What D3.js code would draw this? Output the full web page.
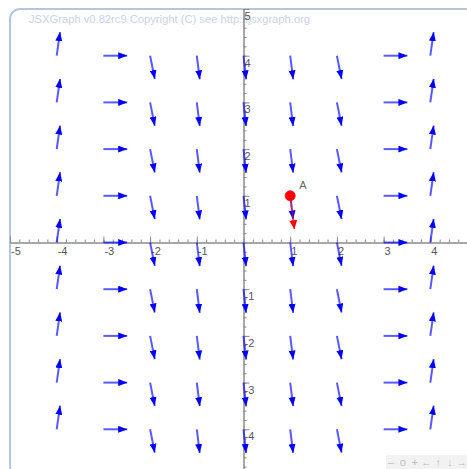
<!DOCTYPE html>
<html>
<head>
<meta charset="utf-8">
<script src="https://cdn.jsdelivr.net/npm/d3@7"></script>
<style>
html,body{margin:0;padding:0;background:#fff;overflow:hidden;}
svg{display:block;font-family:"Liberation Sans",Arial,sans-serif;}
</style>
</head>
<body>
<script>
// ---- data ----
const gridX = [-4, -3, -2, -1, 0, 1, 2, 3, 4];
const gridY = [4, 3, 2, 1, 0, -1, -2, -3, -4];
const slopes = [7, 0, -5, -8, -9, -8, -5, 0, 7];   // dy/dx read per column
const majorTicks = [-5, -4, -3, -2, -1, 1, 2, 3, 4, 5];
const tickLabels = ["-5", "-4", "-3", "-2", "-1", "1", "2", "3", "4", "5"];
const pointA = {x: 1, y: 1, label: "A", slope: -8};
const navSymbols = ["\u2013", "o", "+", "\u2190", "\u2191", "\u2193", "\u2192"];
const copyright = "JSXGraph v0.82rc9 Copyright (C) see http://jsxgraph.org";

const W = 467, H = 469;
const box = {left: 10, top: 9, size: 467};
const x = d3.scaleLinear().domain([-5, 5]).range([box.left, box.left + box.size]);
const y = d3.scaleLinear().domain([-5, 5]).range([box.top + box.size, box.top]);

const svg = d3.select("body").append("svg").attr("width", W).attr("height", H);
const defs = svg.append("defs");
function marker(id, color, len, wid) {
  defs.append("marker").attr("id", id)
    .attr("viewBox", `0 0 ${len} ${wid}`).attr("refX", len).attr("refY", wid / 2)
    .attr("markerUnits", "userSpaceOnUse").attr("markerWidth", len).attr("markerHeight", wid)
    .attr("orient", "auto")
    .append("path").attr("d", `M0,0L${len},${wid / 2}L0,${wid}Z`).attr("fill", color);
}
marker("headBlue", "#0000ff", 9, 7);
marker("headRed", "#ff0000", 9, 8);

// border
svg.append("rect").attr("x", box.left).attr("y", box.top)
  .attr("width", box.size).attr("height", box.size).attr("rx", 10)
  .attr("fill", "none").attr("stroke", "#b4c6de").attr("stroke-width", 2);

// copyright
svg.append("text").attr("x", 29).attr("y", 23).attr("font-size", 11.2)
  .attr("fill", "#c9d3e6").text(copyright);

// axes
const minor = d3.range(-25, 26).map(d => d / 5);
const axisColor = "#8a8a8a";
const gx = svg.append("g").attr("transform", `translate(0,${y(0)})`);
gx.call(d3.axisBottom(x).tickValues(minor).tickSizeInner(3).tickSizeOuter(0).tickFormat(""));
gx.call(d3.axisTop(x).tickValues(minor).tickSizeInner(3).tickSizeOuter(0).tickFormat(""));
const gx2 = svg.append("g").attr("transform", `translate(0,${y(0)})`);
gx2.call(d3.axisBottom(x).tickValues(majorTicks).tickSizeInner(6).tickSizeOuter(0).tickFormat(""));
gx2.call(d3.axisTop(x).tickValues(majorTicks).tickSizeInner(6).tickSizeOuter(0).tickFormat(""));
const gy = svg.append("g").attr("transform", `translate(${x(0)},0)`);
gy.call(d3.axisLeft(y).tickValues(minor).tickSizeInner(3).tickSizeOuter(0).tickFormat(""));
gy.call(d3.axisRight(y).tickValues(minor).tickSizeInner(3).tickSizeOuter(0).tickFormat(""));
const gy2 = svg.append("g").attr("transform", `translate(${x(0)},0)`);
gy2.call(d3.axisLeft(y).tickValues(majorTicks).tickSizeInner(6).tickSizeOuter(0).tickFormat(""));
gy2.call(d3.axisRight(y).tickValues(majorTicks).tickSizeInner(6).tickSizeOuter(0).tickFormat(""));
svg.selectAll(".domain, .tick line").attr("stroke", axisColor).attr("stroke-width", 1);

// tick labels (only those inside the visible window)
svg.append("g").selectAll("text").data(majorTicks.filter(d => d < 5)).join("text")
  .attr("x", d => x(d) + 1).attr("y", y(0) + 12).attr("font-size", 11).attr("fill", "#555")
  .text(d => tickLabels[majorTicks.indexOf(d)]);
svg.append("g").selectAll("text").data(majorTicks.filter(d => d > -5)).join("text")
  .attr("x", x(0) + 1).attr("y", d => y(d) + 11).attr("font-size", 11).attr("fill", "#555")
  .text(d => tickLabels[majorTicks.indexOf(d)]);

// vector field
const L = 0.51;
const field = [];
gridX.forEach((gxv, i) => gridY.forEach(gyv => field.push({x: gxv, y: gyv, s: slopes[i]})));
svg.append("g").selectAll("line").data(field).join("line")
  .attr("x1", d => x(d.x)).attr("y1", d => y(d.y))
  .attr("x2", d => x(d.x + L / Math.hypot(1, d.s)))
  .attr("y2", d => y(d.y + L * d.s / Math.hypot(1, d.s)))
  .attr("stroke", "#0000ff").attr("stroke-opacity", 0.65).attr("stroke-width", 2)
  .attr("marker-end", "url(#headBlue)");

// point A and its vector
const LA = 0.72;
svg.append("line")
  .attr("x1", x(pointA.x)).attr("y1", y(pointA.y))
  .attr("x2", x(pointA.x + LA / Math.hypot(1, pointA.slope)))
  .attr("y2", y(pointA.y + LA * pointA.slope / Math.hypot(1, pointA.slope)))
  .attr("stroke", "#ff0000").attr("stroke-opacity", 0.6).attr("stroke-width", 1.5)
  .attr("marker-end", "url(#headRed)");
svg.append("circle").attr("cx", x(pointA.x)).attr("cy", y(pointA.y)).attr("r", 5)
  .attr("fill", "#ff0000").attr("stroke", "#ff0000").attr("stroke-opacity", 0.8);
svg.append("text").attr("x", x(pointA.x) + 9).attr("y", y(pointA.y) - 7)
  .attr("font-size", 11).attr("fill", "#666").text(pointA.label);

// navigation bar
svg.append("rect").attr("x", 386).attr("y", 455).attr("width", 90).attr("height", 20)
  .attr("fill", "#f2f2f2");
svg.append("g").selectAll("text").data(navSymbols).join("text")
  .attr("x", (d, i) => 391 + i * 11.8).attr("y", 466).attr("text-anchor", "middle")
  .attr("font-size", 11).attr("fill", "#bdbdbd").text(d => d);
</script>
</body>
</html>
